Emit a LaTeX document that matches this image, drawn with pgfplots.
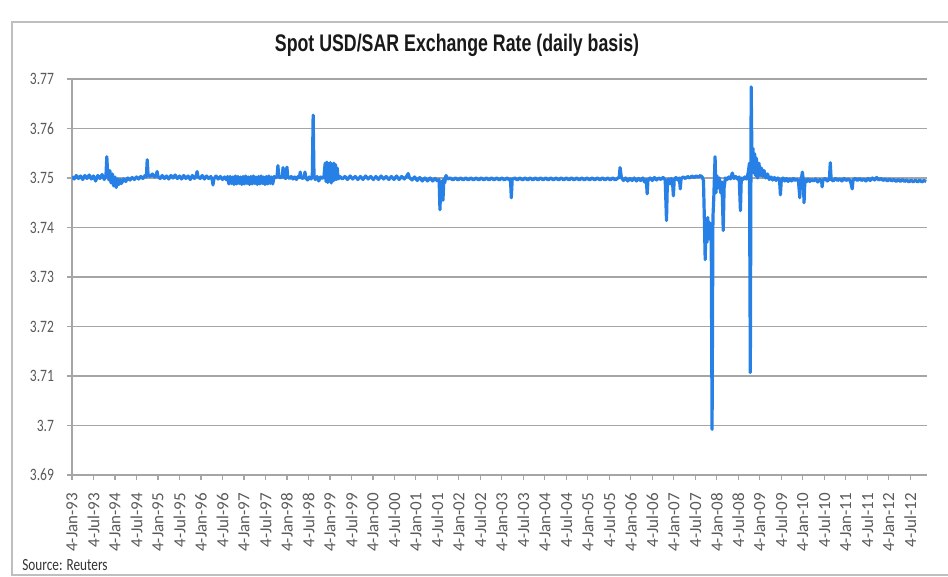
\documentclass[border=0pt]{standalone}
\usepackage{fontspec}
\setmainfont[FakeStretch=0.78]{Carlito}
\newfontfamily\tickfont{Carlito}
\newfontfamily\titlefont[FakeStretch=0.74]{Liberation Sans}
\usepackage{pgfplots}
\pgfplotsset{compat=1.18}
\usepackage{pgfplotstable}
\definecolor{lineblue}{RGB}{38,128,230}
\definecolor{tickgray}{RGB}{89,89,89}
\definecolor{gridgray}{RGB}{165,165,165}

\pgfplotstableread{
x y
1993.00 3.7503
1993.05 3.7498
1993.10 3.7505
1993.15 3.7499
1993.20 3.7504
1993.25 3.7497
1993.30 3.7505
1993.35 3.7499
1993.40 3.7506
1993.45 3.7498
1993.50 3.7504
1993.55 3.7494
1993.60 3.7505
1993.65 3.7499
1993.70 3.7507
1993.75 3.7497
1993.79 3.7505
1993.81 3.7543
1993.83 3.7508
1993.86 3.7496
1993.88 3.7515
1993.91 3.7490
1993.94 3.7508
1993.97 3.7484
1994.00 3.7502
1994.03 3.7481
1994.06 3.7498
1994.09 3.7487
1994.12 3.7497
1994.15 3.7489
1994.20 3.7498
1994.25 3.7493
1994.30 3.7500
1994.35 3.7496
1994.40 3.7501
1994.45 3.7497
1994.50 3.7502
1994.55 3.7498
1994.60 3.7503
1994.65 3.7499
1994.70 3.7505
1994.73 3.7502
1994.75 3.7537
1994.77 3.7506
1994.82 3.7503
1994.87 3.7508
1994.92 3.7502
1994.96 3.7506
1994.98 3.7513
1995.00 3.7503
1995.05 3.7499
1995.10 3.7505
1995.15 3.7499
1995.20 3.7504
1995.25 3.7498
1995.30 3.7505
1995.35 3.7500
1995.40 3.7506
1995.45 3.7499
1995.50 3.7504
1995.55 3.7498
1995.60 3.7505
1995.65 3.7499
1995.70 3.7504
1995.75 3.7497
1995.80 3.7505
1995.85 3.7499
1995.89 3.7505
1995.91 3.7513
1995.93 3.7503
1995.98 3.7499
1996.03 3.7505
1996.08 3.7498
1996.13 3.7504
1996.18 3.7499
1996.23 3.7503
1996.26 3.7497
1996.28 3.7486
1996.30 3.7498
1996.35 3.7504
1996.40 3.7498
1996.45 3.7503
1996.50 3.7497
1996.55 3.7502
1996.60 3.7496
1996.62 3.7503
1996.65 3.7488
1996.68 3.7503
1996.71 3.7489
1996.74 3.7502
1996.77 3.7487
1996.80 3.7504
1996.83 3.7488
1996.86 3.7503
1996.89 3.7489
1996.92 3.7502
1996.95 3.7487
1996.98 3.7503
1997.01 3.7488
1997.04 3.7504
1997.07 3.7489
1997.10 3.7502
1997.13 3.7487
1997.16 3.7503
1997.19 3.7488
1997.22 3.7504
1997.25 3.7489
1997.28 3.7502
1997.31 3.7487
1997.34 3.7503
1997.37 3.7488
1997.40 3.7504
1997.43 3.7489
1997.46 3.7502
1997.49 3.7487
1997.52 3.7503
1997.55 3.7488
1997.58 3.7504
1997.61 3.7489
1997.64 3.7502
1997.67 3.7488
1997.70 3.7503
1997.73 3.7500
1997.77 3.7503
1997.79 3.7525
1997.81 3.7503
1997.85 3.7500
1997.89 3.7504
1997.91 3.7521
1997.93 3.7502
1997.97 3.7499
1998.00 3.7522
1998.02 3.7502
1998.06 3.7499
1998.10 3.7503
1998.14 3.7498
1998.18 3.7502
1998.22 3.7497
1998.26 3.7503
1998.29 3.7501
1998.31 3.7512
1998.33 3.7501
1998.37 3.7499
1998.40 3.7502
1998.42 3.7512
1998.44 3.7500
1998.48 3.7496
1998.52 3.7502
1998.56 3.7498
1998.59 3.7503
1998.61 3.7627
1998.63 3.7502
1998.66 3.7497
1998.70 3.7503
1998.74 3.7494
1998.78 3.7502
1998.82 3.7499
1998.86 3.7502
1998.89 3.7530
1998.91 3.7493
1998.93 3.7532
1998.95 3.7491
1998.97 3.7529
1998.99 3.7495
1999.01 3.7531
1999.03 3.7490
1999.05 3.7528
1999.07 3.7494
1999.09 3.7530
1999.11 3.7496
1999.13 3.7527
1999.15 3.7497
1999.17 3.7520
1999.19 3.7498
1999.23 3.7503
1999.29 3.7498
1999.35 3.7503
1999.41 3.7497
1999.47 3.7504
1999.53 3.7498
1999.59 3.7503
1999.65 3.7497
1999.71 3.7503
1999.77 3.7497
1999.83 3.7504
1999.89 3.7498
1999.95 3.7503
2000.01 3.7497
2000.07 3.7503
2000.13 3.7497
2000.19 3.7504
2000.25 3.7498
2000.31 3.7503
2000.37 3.7497
2000.43 3.7503
2000.49 3.7497
2000.55 3.7504
2000.61 3.7497
2000.67 3.7503
2000.73 3.7498
2000.79 3.7504
2000.82 3.7509
2000.85 3.7501
2000.91 3.7496
2000.97 3.7502
2001.03 3.7495
2001.09 3.7501
2001.15 3.7494
2001.21 3.7500
2001.27 3.7494
2001.33 3.7500
2001.39 3.7494
2001.45 3.7499
2001.50 3.7494
2001.54 3.7497
2001.56 3.7436
2001.58 3.7492
2001.60 3.7470
2001.62 3.7495
2001.63 3.7455
2001.65 3.7498
2001.67 3.7490
2001.70 3.7505
2001.74 3.7498
2001.80 3.7500
2001.86 3.7496
2001.92 3.7500
2001.98 3.7496
2002.04 3.7500
2002.10 3.7496
2002.16 3.7500
2002.22 3.7496
2002.28 3.7500
2002.34 3.7496
2002.40 3.7500
2002.46 3.7496
2002.52 3.7500
2002.58 3.7496
2002.64 3.7500
2002.70 3.7496
2002.76 3.7500
2002.82 3.7496
2002.88 3.7500
2002.94 3.7496
2003.00 3.7500
2003.06 3.7496
2003.12 3.7500
2003.18 3.7496
2003.20 3.7498
2003.22 3.7460
2003.24 3.7497
2003.30 3.7500
2003.36 3.7496
2003.42 3.7500
2003.48 3.7496
2003.54 3.7500
2003.60 3.7496
2003.66 3.7500
2003.72 3.7496
2003.78 3.7500
2003.84 3.7496
2003.90 3.7500
2003.96 3.7496
2004.02 3.7500
2004.08 3.7496
2004.14 3.7500
2004.20 3.7496
2004.26 3.7500
2004.32 3.7496
2004.38 3.7500
2004.44 3.7496
2004.50 3.7500
2004.56 3.7496
2004.62 3.7500
2004.68 3.7496
2004.74 3.7500
2004.80 3.7496
2004.86 3.7500
2004.92 3.7496
2004.98 3.7500
2005.04 3.7496
2005.10 3.7500
2005.16 3.7496
2005.22 3.7500
2005.28 3.7496
2005.34 3.7500
2005.40 3.7496
2005.46 3.7500
2005.52 3.7496
2005.58 3.7500
2005.64 3.7496
2005.70 3.7500
2005.73 3.7501
2005.75 3.7521
2005.78 3.7501
2005.83 3.7495
2005.88 3.7500
2005.93 3.7494
2005.98 3.7499
2006.03 3.7495
2006.08 3.7500
2006.13 3.7494
2006.18 3.7499
2006.23 3.7495
2006.28 3.7500
2006.32 3.7492
2006.36 3.7497
2006.38 3.7468
2006.40 3.7496
2006.45 3.7500
2006.50 3.7495
2006.55 3.7501
2006.60 3.7496
2006.65 3.7500
2006.70 3.7497
2006.75 3.7501
2006.80 3.7496
2006.83 3.7414
2006.85 3.7490
2006.88 3.7498
2006.91 3.7488
2006.94 3.7499
2006.97 3.7492
2006.99 3.7464
2007.01 3.7497
2007.05 3.7501
2007.09 3.7496
2007.13 3.7500
2007.15 3.7478
2007.17 3.7499
2007.22 3.7502
2007.27 3.7499
2007.32 3.7503
2007.37 3.7500
2007.42 3.7504
2007.47 3.7501
2007.52 3.7504
2007.57 3.7502
2007.62 3.7505
2007.66 3.7502
2007.69 3.7495
2007.71 3.7420
2007.73 3.7335
2007.75 3.7415
2007.77 3.7370
2007.79 3.7420
2007.81 3.7380
2007.83 3.7410
2007.85 3.7375
2007.87 3.7400
2007.89 3.6992
2007.91 3.7420
2007.93 3.7460
2007.96 3.7543
2007.98 3.7470
2008.00 3.7505
2008.03 3.7480
2008.06 3.7500
2008.09 3.7470
2008.12 3.7492
2008.15 3.7394
2008.17 3.7480
2008.20 3.7500
2008.24 3.7497
2008.28 3.7502
2008.32 3.7498
2008.36 3.7510
2008.40 3.7499
2008.44 3.7503
2008.48 3.7498
2008.52 3.7502
2008.55 3.7434
2008.57 3.7500
2008.61 3.7497
2008.65 3.7502
2008.69 3.7498
2008.73 3.7510
2008.76 3.7530
2008.78 3.7107
2008.80 3.7684
2008.82 3.7520
2008.84 3.7560
2008.86 3.7510
2008.88 3.7549
2008.90 3.7505
2008.92 3.7540
2008.95 3.7500
2008.98 3.7530
2009.01 3.7505
2009.04 3.7520
2009.07 3.7503
2009.10 3.7515
2009.14 3.7500
2009.18 3.7508
2009.22 3.7497
2009.26 3.7502
2009.30 3.7496
2009.34 3.7501
2009.38 3.7495
2009.42 3.7500
2009.46 3.7496
2009.48 3.7466
2009.50 3.7495
2009.54 3.7500
2009.58 3.7494
2009.62 3.7499
2009.66 3.7493
2009.70 3.7498
2009.74 3.7494
2009.78 3.7499
2009.82 3.7495
2009.86 3.7498
2009.90 3.7494
2009.93 3.7460
2009.95 3.7496
2009.98 3.7505
2009.99 3.7512
2010.01 3.7498
2010.03 3.7450
2010.05 3.7497
2010.08 3.7492
2010.12 3.7498
2010.16 3.7493
2010.20 3.7497
2010.25 3.7494
2010.30 3.7498
2010.35 3.7492
2010.40 3.7497
2010.44 3.7493
2010.45 3.7482
2010.47 3.7496
2010.52 3.7499
2010.57 3.7494
2010.62 3.7498
2010.64 3.7531
2010.66 3.7497
2010.71 3.7494
2010.76 3.7499
2010.81 3.7495
2010.86 3.7498
2010.91 3.7494
2010.96 3.7499
2011.01 3.7495
2011.06 3.7498
2011.11 3.7494
2011.15 3.7478
2011.17 3.7496
2011.22 3.7499
2011.27 3.7495
2011.32 3.7499
2011.37 3.7495
2011.42 3.7498
2011.47 3.7494
2011.52 3.7499
2011.57 3.7495
2011.62 3.7500
2011.67 3.7496
2011.72 3.7501
2011.77 3.7496
2011.82 3.7499
2011.87 3.7495
2011.92 3.7498
2011.97 3.7494
2012.02 3.7498
2012.07 3.7494
2012.12 3.7497
2012.17 3.7493
2012.22 3.7497
2012.27 3.7493
2012.32 3.7497
2012.37 3.7493
2012.42 3.7496
2012.47 3.7492
2012.52 3.7496
2012.57 3.7492
2012.62 3.7496
2012.67 3.7492
2012.72 3.7496
2012.77 3.7492
2012.82 3.7495
2012.87 3.7493
}\sardata

\begin{document}
\begin{tikzpicture}
\useasboundingbox (-36pt,-51pt) rectangle (438pt,237.5pt);
\draw[black!25, line width=1pt] (445pt,226.5pt) -- (-30pt,226.5pt) -- (-30pt,-50pt) -- (445pt,-50pt);
\begin{axis}[
  at={(0pt,0pt)}, anchor=south west,
  scale only axis, width=427.5pt, height=198pt,
  xmin=1993, xmax=2012.89, ymin=3.69, ymax=3.77,
  axis lines*=left,
  axis line style={gridgray, line width=0.8pt, -},
  ytick={3.69,3.7,3.71,3.72,3.73,3.74,3.75,3.76,3.77},
  yticklabels={3.69,3.7,3.71,3.72,3.73,3.74,3.75,3.76,3.77},
  xtick={1993,1993.5,1994,1994.5,1995,1995.5,1996,1996.5,1997,1997.5,1998,1998.5,1999,1999.5,2000,2000.5,2001,2001.5,2002,2002.5,2003,2003.5,2004,2004.5,2005,2005.5,2006,2006.5,2007,2007.5,2008,2008.5,2009,2009.5,2010,2010.5,2011,2011.5,2012,2012.5},
  xticklabels={4-Jan-93,4-Jul-93,4-Jan-94,4-Jul-94,4-Jan-95,4-Jul-95,4-Jan-96,4-Jul-96,4-Jan-97,4-Jul-97,4-Jan-98,4-Jul-98,4-Jan-99,4-Jul-99,4-Jan-00,4-Jul-00,4-Jan-01,4-Jul-01,4-Jan-02,4-Jul-02,4-Jan-03,4-Jul-03,4-Jan-04,4-Jul-04,4-Jan-05,4-Jul-05,4-Jan-06,4-Jul-06,4-Jan-07,4-Jul-07,4-Jan-08,4-Jul-08,4-Jan-09,4-Jul-09,4-Jan-10,4-Jul-10,4-Jan-11,4-Jul-11,4-Jan-12,4-Jul-12},
  tick align=outside, major tick length=2.5pt,
  tick style={gridgray, line width=0.6pt},
  ymajorgrids, grid style={gridgray, line width=0.6pt},
  /pgf/number format/assume math mode=true,
  x tick label style={rotate=90, anchor=east, font=\tickfont\fontsize{8.5}{10}\selectfont, text=tickgray},
  y tick label style={font=\fontsize{8.7}{10}\selectfont, text=tickgray},
  xticklabel shift=3pt, yticklabel shift=3pt,
]
\addplot[lineblue, line width=1.6pt, line join=round] table {\sardata};
\end{axis}
\node[font=\titlefont\bfseries\fontsize{12}{14}\selectfont, text=black!90] at (192.5pt,215pt) {Spot USD/SAR Exchange Rate (daily basis)};
\node[anchor=west, font=\fontsize{8.5}{10}\selectfont, text=black!80, inner sep=0pt] at (-25pt,-45pt) {Source: Reuters};
\end{tikzpicture}
\end{document}
